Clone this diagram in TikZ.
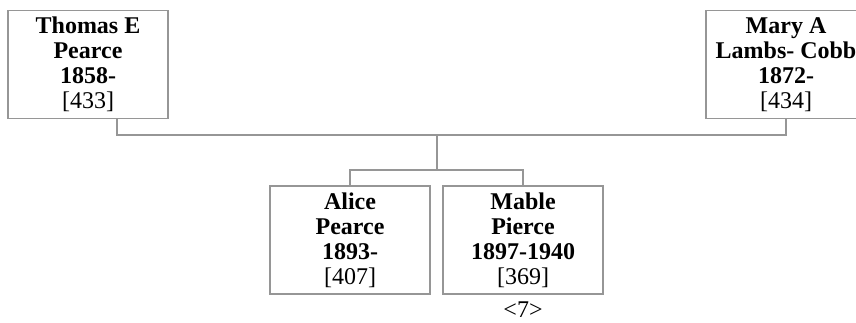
\documentclass[tikz,border=0pt]{standalone}
\usepackage{fontspec}
\setmainfont{Liberation Serif}
\usetikzlibrary{positioning}

\definecolor{linegray}{RGB}{150,150,150}
\tikzset{
  person/.style={draw=linegray, line width=1.1pt, minimum width=120pt,
    minimum height=81pt, align=center, inner sep=2pt,
    font=\fontsize{18}{18.75}\selectfont},
  link/.style={draw=linegray, line width=1.1pt}
}
\newcommand{\refno}[1]{[#1]}

\begin{document}
\begin{tikzpicture}[x=0.75pt,y=-0.75pt]
  \useasboundingbox (0,0) rectangle (856,323);

  % parents
  \node[person] (thomas) at (88,64.5) {\textbf{Thomas E}\\ \textbf{Pearce}\\ \textbf{1858-}\\ \refno{433}};
  \node[person] (mary) at (786,64.5) {\textbf{Mary A}\\ \textbf{Lambs- Cobb}\\ \textbf{1872-}\\ \refno{434}};

  % children
  \node[person] (alice) at (350,240) {\textbf{Alice}\\ \textbf{Pearce}\\ \textbf{1893-}\\ \refno{407}};
  \node[person] (mable) at (523,240) {\textbf{Mable}\\ \textbf{Pierce}\\ \textbf{1897-1940}\\ \refno{369}};
  \node[below=4pt of mable, inner sep=1pt, font=\fontsize{18}{18}\selectfont] (gen) {<7>};

  \coordinate (union) at (437,135);
  \coordinate (fork) at (437,170);
  \draw[link] ([xshift=21.75pt]thomas.south) -- ++(0,16) -| (mary.south);
  \draw[link] (union) -- (fork);
  \draw[link] (alice.north) |- (fork) -| (mable.north);
\end{tikzpicture}
\end{document}
